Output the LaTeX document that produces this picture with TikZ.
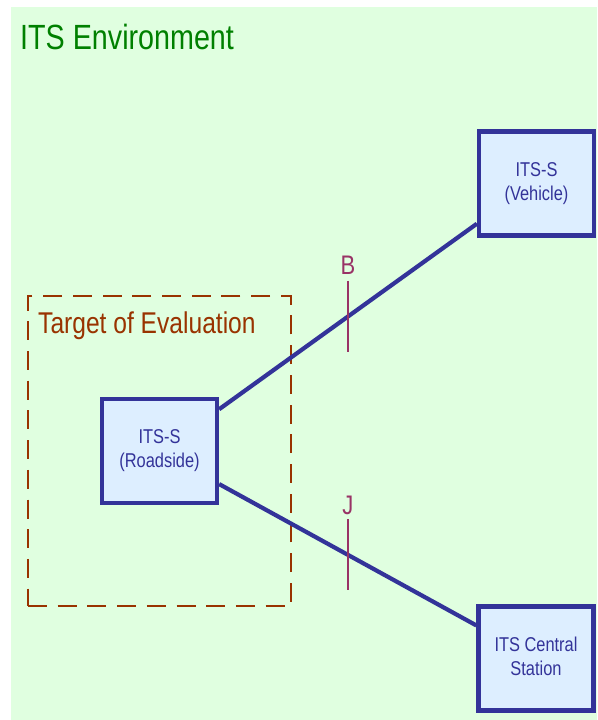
\documentclass[tikz,border=0pt]{standalone}
\usepackage{fontspec}
\setmainfont{Liberation Sans}
\usetikzlibrary{calc}

\definecolor{envgreen}{RGB}{224,255,224}
\definecolor{titlegreen}{RGB}{0,128,0}
\definecolor{stationfill}{RGB}{221,238,255}
\definecolor{stationblue}{RGB}{51,51,153}
\definecolor{toebrown}{RGB}{153,51,0}
\definecolor{refcolor}{RGB}{153,51,102}

% slightly tall lettering used throughout
\newcommand\tallText[1]{\scalebox{1}[1.22]{#1}}

\tikzset{
  station/.style={draw=stationblue, line width=4.2pt, fill=stationfill,
    minimum width=115pt, minimum height=104pt, inner sep=0pt,
    text=stationblue, font=\fontsize{16.4}{19.6}\selectfont},
  link/.style={draw=stationblue, line width=4.2pt},
  toebox/.style={draw=toebrown, line width=2.5pt, dash pattern=on 19pt off 10.7pt,
    minimum width=263pt, minimum height=310pt, inner sep=0pt},
  reftick/.style={draw=refcolor, line width=1.6pt},
  reflabel/.style={text=refcolor, font=\fontsize{22}{26}\selectfont, inner sep=0pt, anchor=base},
  caption/.style={inner sep=0pt, anchor=base west}
}

\begin{document}
\begin{tikzpicture}[x=1pt, y=-1pt]
  \useasboundingbox (0,0) rectangle (597,720);

  % environment area
  \fill[envgreen] (11,7) rectangle (597,720);
  \node[caption, text=titlegreen, font=\fontsize{28.7}{34}\selectfont] (env) at (20,49)
    {\tallText{ITS Environment}};

  % target of evaluation
  \node[toebox] (toe) at (159.5,451) {};
  \node[caption, text=toebrown, font=\fontsize{24.6}{30}\selectfont] (toelabel) at (38,333)
    {\tallText{Target of Evaluation}};

  % stations
  \node[station] (rsu) at (159.5,451)
    {\tallText{\begin{tabular}{@{}c@{}}ITS-S\\(Roadside)\end{tabular}}};
  \node[station] (veh) at (536.5,183.5)
    {\tallText{\begin{tabular}{@{}c@{}}ITS-S\\(Vehicle)\end{tabular}}};
  \node[station] (cs) at (536,658.5)
    {\tallText{\begin{tabular}{@{}c@{}}ITS Central\\Station\end{tabular}}};

  % reference points on the links
  \path (rsu.35.9) -- coordinate[pos=0.5] (B) (veh.214.9);
  \path (rsu.-29) -- coordinate[pos=0.5] (J) (cs.151.9);

  \draw[link] (rsu.35.9) -- (veh.214.9);
  \draw[link] (rsu.-29) -- (cs.151.9);

  \draw[reftick] ($(B)+(0,-35.5)$) coordinate (Btop) -- ($(B)+(0,35.5)$) coordinate (Bbot);
  \draw[reftick] ($(J)+(0,-35.5)$) coordinate (Jtop) -- ($(J)+(0,35.5)$) coordinate (Jbot);

  \node[reflabel] (Blabel) at ($(Btop)+(0,-6)$) {\tallText{B}};
  \node[reflabel] (Jlabel) at ($(Jtop)+(0,-5)$) {\tallText{J}};
\end{tikzpicture}
\end{document}
